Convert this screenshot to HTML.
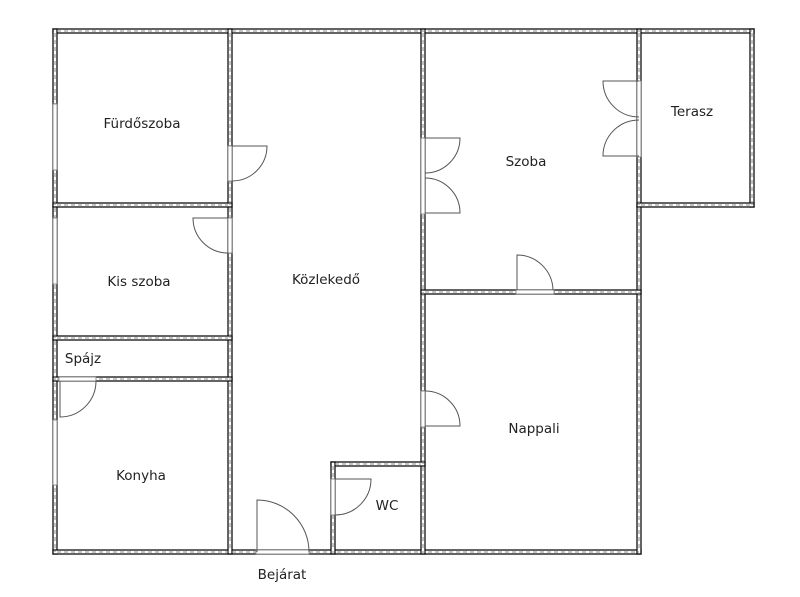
<!DOCTYPE html>
<html><head><meta charset="utf-8"><style>
html,body{margin:0;padding:0;background:#fff;}
svg{display:block;}
text{font-family:"DejaVu Sans","Liberation Sans",sans-serif;font-size:13.5px;fill:#222;text-anchor:middle;}
.w{fill:#fff;stroke:#111;stroke-width:1.3;}
.h{stroke:#888;stroke-width:1;stroke-dasharray:4 3;fill:none;}
.o{fill:#fff;stroke:#777;stroke-width:0.8;}
.d{fill:none;stroke:#555;stroke-width:1;}
</style></head><body>
<svg width="800" height="597" viewBox="0 0 800 597">
<g>
<rect class="w" x="53" y="29" width="701" height="4"/>
<rect class="w" x="53" y="29" width="4" height="525"/>
<rect class="w" x="53" y="550" width="588" height="4"/>
<rect class="w" x="750" y="29" width="4" height="178"/>
<rect class="w" x="637" y="29" width="4" height="525"/>
<rect class="w" x="228" y="29" width="4" height="525"/>
<rect class="w" x="421" y="29" width="4" height="525"/>
<rect class="w" x="53" y="203" width="179" height="4"/>
<rect class="w" x="53" y="336" width="179" height="4"/>
<rect class="w" x="53" y="377" width="179" height="4"/>
<rect class="w" x="421" y="290" width="220" height="4"/>
<rect class="w" x="637" y="203" width="117" height="4"/>
<rect class="w" x="331" y="462" width="94" height="4"/>
<rect class="w" x="331" y="462" width="4" height="92"/>
</g>
<g class="h">
<line x1="57" y1="31" x2="752" y2="31"/>
<line x1="55" y1="33" x2="55" y2="552"/>
<line x1="57" y1="552" x2="639" y2="552"/>
<line x1="752" y1="33" x2="752" y2="205"/>
<line x1="639" y1="33" x2="639" y2="550"/>
<line x1="230" y1="33" x2="230" y2="550"/>
<line x1="423" y1="33" x2="423" y2="550"/>
<line x1="57" y1="205" x2="228" y2="205"/>
<line x1="57" y1="338" x2="228" y2="338"/>
<line x1="57" y1="379" x2="228" y2="379"/>
<line x1="425" y1="292" x2="637" y2="292"/>
<line x1="641" y1="205" x2="750" y2="205"/>
<line x1="335" y1="464" x2="421" y2="464"/>
<line x1="333" y1="466" x2="333" y2="550"/>
</g>
<rect class="o" x="53" y="104" width="4" height="66"/>
<rect class="o" x="53" y="218" width="4" height="66"/>
<rect class="o" x="53" y="420" width="4" height="65"/>
<rect class="o" x="228" y="146" width="4" height="35"/>
<rect class="o" x="228" y="218" width="4" height="35"/>
<rect class="o" x="59" y="377" width="37" height="4"/>
<rect class="o" x="256" y="550" width="53" height="4"/>
<rect class="o" x="331" y="479" width="4" height="36"/>
<rect class="o" x="421" y="138" width="4" height="76"/>
<rect class="o" x="637" y="81" width="4" height="76"/>
<rect class="o" x="516" y="290" width="38" height="4"/>
<rect class="o" x="421" y="391" width="4" height="36"/>
<g class="d">
<path d="M232 146 H267 A35 35 0 0 1 232 181"/>
<path d="M228 218 H193 A35 35 0 0 0 228 253"/>
<path d="M60 381 V417 A36 36 0 0 0 96 381"/>
<path d="M257 552 V500 A52 52 0 0 1 309 552"/>
<path d="M335 479 H371 A36 36 0 0 1 335 515"/>
<path d="M425 138 H460 A35 35 0 0 1 425 173"/>
<path d="M425 213 H460 A35 35 0 0 0 425 178"/>
<path d="M639 81 H603 A36 36 0 0 0 639 117"/>
<path d="M639 156 H603 A36 36 0 0 1 639 120"/>
<path d="M517 290 V255 A36 36 0 0 1 553 290"/>
<path d="M425 391 A35 35 0 0 1 460 426 H425"/>
</g>
<text x="142" y="128">Fürdőszoba</text>
<text x="139" y="286">Kis szoba</text>
<text x="83" y="363">Spájz</text>
<text x="141" y="480">Konyha</text>
<text x="326" y="284">Közlekedő</text>
<text x="526" y="166">Szoba</text>
<text x="692" y="116">Terasz</text>
<text x="534" y="433">Nappali</text>
<text x="387" y="510">WC</text>
<text x="282" y="579">Bejárat</text>
</svg>
</body></html>
